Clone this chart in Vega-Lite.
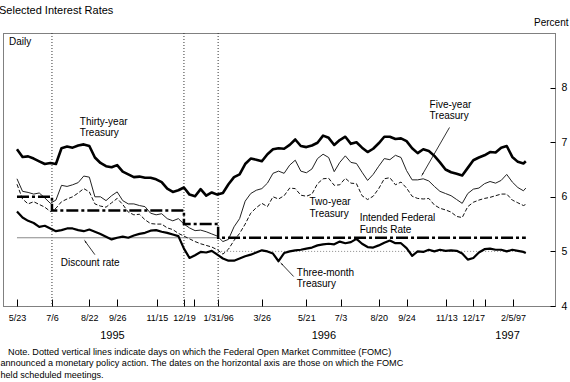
{
  "$schema": "https://vega.github.io/schema/vega-lite/v6.json",
  "width": 552,
  "height": 273,
  "autosize": {"type": "none"},
  "padding": {"left": 3, "top": 33, "right": 15, "bottom": 76},
  "background": "white",
  "config": {
    "view": {"stroke": "#000", "strokeWidth": 1, "strokeDash": [1, 1]},
    "font": "Liberation Sans",
    "axis": {"grid": false, "domain": false, "labelFont": "Liberation Sans", "titleFont": "Liberation Sans", "labelColor": "#000", "tickColor": "#000", "titleColor": "#000", "titleFontWeight": "normal"},
    "text": {"font": "Liberation Sans", "color": "#000"}
  },
  "title": {"text": "Selected Interest Rates", "anchor": "start", "fontSize": 11, "fontWeight": "normal", "font": "Liberation Sans", "color": "#000", "offset": 1, "dx": -1},
  "datasets": {
    "rates": [
      {"d":"1995-05-23","t30":6.87,"t5":6.33,"t2":6.23,"t3m":5.73},
      {"d":"1995-05-30","t30":6.73,"t5":6.10,"t2":5.96,"t3m":5.62},
      {"d":"1995-06-06","t30":6.74,"t5":6.08,"t2":5.87,"t3m":5.56},
      {"d":"1995-06-13","t30":6.70,"t5":6.05,"t2":5.91,"t3m":5.52},
      {"d":"1995-06-20","t30":6.65,"t5":6.07,"t2":5.86,"t3m":5.45},
      {"d":"1995-06-27","t30":6.60,"t5":5.98,"t2":5.81,"t3m":5.47},
      {"d":"1995-07-04","t30":6.62,"t5":5.88,"t2":5.73,"t3m":5.42},
      {"d":"1995-07-11","t30":6.60,"t5":5.94,"t2":5.79,"t3m":5.37},
      {"d":"1995-07-18","t30":6.89,"t5":6.21,"t2":5.91,"t3m":5.39},
      {"d":"1995-07-25","t30":6.92,"t5":6.19,"t2":5.96,"t3m":5.42},
      {"d":"1995-08-01","t30":6.90,"t5":6.22,"t2":6.00,"t3m":5.42},
      {"d":"1995-08-08","t30":6.94,"t5":6.26,"t2":6.07,"t3m":5.39},
      {"d":"1995-08-15","t30":6.96,"t5":6.38,"t2":6.15,"t3m":5.37},
      {"d":"1995-08-22","t30":6.93,"t5":6.36,"t2":6.09,"t3m":5.40},
      {"d":"1995-08-29","t30":6.72,"t5":6.00,"t2":5.87,"t3m":5.36},
      {"d":"1995-09-05","t30":6.62,"t5":6.00,"t2":5.83,"t3m":5.32},
      {"d":"1995-09-12","t30":6.56,"t5":5.93,"t2":5.81,"t3m":5.27},
      {"d":"1995-09-19","t30":6.54,"t5":6.02,"t2":5.89,"t3m":5.22},
      {"d":"1995-09-26","t30":6.58,"t5":6.09,"t2":5.97,"t3m":5.25},
      {"d":"1995-10-03","t30":6.46,"t5":5.93,"t2":5.86,"t3m":5.27},
      {"d":"1995-10-10","t30":6.41,"t5":5.87,"t2":5.72,"t3m":5.25},
      {"d":"1995-10-17","t30":6.36,"t5":5.87,"t2":5.67,"t3m":5.29},
      {"d":"1995-10-24","t30":6.37,"t5":5.84,"t2":5.68,"t3m":5.32},
      {"d":"1995-10-31","t30":6.35,"t5":5.82,"t2":5.58,"t3m":5.34},
      {"d":"1995-11-07","t30":6.35,"t5":5.70,"t2":5.51,"t3m":5.38},
      {"d":"1995-11-14","t30":6.32,"t5":5.67,"t2":5.50,"t3m":5.39},
      {"d":"1995-11-21","t30":6.27,"t5":5.69,"t2":5.50,"t3m":5.36},
      {"d":"1995-11-28","t30":6.15,"t5":5.60,"t2":5.43,"t3m":5.34},
      {"d":"1995-12-05","t30":6.09,"t5":5.56,"t2":5.40,"t3m":5.31},
      {"d":"1995-12-12","t30":6.12,"t5":5.60,"t2":5.33,"t3m":5.28},
      {"d":"1995-12-19","t30":6.17,"t5":5.50,"t2":5.28,"t3m":5.05},
      {"d":"1995-12-26","t30":6.04,"t5":5.43,"t2":5.23,"t3m":4.88},
      {"d":"1996-01-02","t30":6.01,"t5":5.38,"t2":5.18,"t3m":4.93},
      {"d":"1996-01-09","t30":6.14,"t5":5.39,"t2":5.14,"t3m":4.99},
      {"d":"1996-01-16","t30":6.02,"t5":5.36,"t2":5.11,"t3m":4.98},
      {"d":"1996-01-23","t30":6.08,"t5":5.32,"t2":5.08,"t3m":5.01},
      {"d":"1996-01-30","t30":6.04,"t5":5.28,"t2":5.03,"t3m":4.94},
      {"d":"1996-02-06","t30":6.07,"t5":5.18,"t2":4.95,"t3m":4.87},
      {"d":"1996-02-13","t30":6.23,"t5":5.22,"t2":5.04,"t3m":4.83},
      {"d":"1996-02-20","t30":6.36,"t5":5.45,"t2":5.20,"t3m":4.83},
      {"d":"1996-02-27","t30":6.41,"t5":5.60,"t2":5.33,"t3m":4.87},
      {"d":"1996-03-05","t30":6.60,"t5":5.92,"t2":5.50,"t3m":4.91},
      {"d":"1996-03-12","t30":6.70,"t5":6.06,"t2":5.70,"t3m":4.94},
      {"d":"1996-03-19","t30":6.68,"t5":6.12,"t2":5.80,"t3m":4.98},
      {"d":"1996-03-26","t30":6.65,"t5":6.15,"t2":5.88,"t3m":5.02},
      {"d":"1996-04-02","t30":6.78,"t5":6.25,"t2":5.82,"t3m":5.00},
      {"d":"1996-04-09","t30":6.87,"t5":6.43,"t2":6.00,"t3m":4.96},
      {"d":"1996-04-16","t30":6.89,"t5":6.47,"t2":5.96,"t3m":4.82},
      {"d":"1996-04-23","t30":6.88,"t5":6.43,"t2":6.02,"t3m":4.97},
      {"d":"1996-04-30","t30":6.95,"t5":6.58,"t2":6.16,"t3m":5.00},
      {"d":"1996-05-07","t30":7.05,"t5":6.67,"t2":6.15,"t3m":5.02},
      {"d":"1996-05-14","t30":6.93,"t5":6.47,"t2":6.03,"t3m":5.03},
      {"d":"1996-05-21","t30":6.91,"t5":6.44,"t2":6.01,"t3m":5.05},
      {"d":"1996-05-28","t30":6.94,"t5":6.51,"t2":6.05,"t3m":5.07},
      {"d":"1996-06-04","t30":6.99,"t5":6.70,"t2":6.24,"t3m":5.11},
      {"d":"1996-06-11","t30":7.12,"t5":6.78,"t2":6.33,"t3m":5.13},
      {"d":"1996-06-18","t30":7.08,"t5":6.72,"t2":6.34,"t3m":5.14},
      {"d":"1996-06-25","t30":6.95,"t5":6.46,"t2":6.21,"t3m":5.13},
      {"d":"1996-07-02","t30":7.04,"t5":6.63,"t2":6.22,"t3m":5.18},
      {"d":"1996-07-09","t30":7.10,"t5":6.75,"t2":6.34,"t3m":5.15},
      {"d":"1996-07-16","t30":6.97,"t5":6.63,"t2":6.25,"t3m":5.17},
      {"d":"1996-07-23","t30":7.00,"t5":6.61,"t2":6.24,"t3m":5.23},
      {"d":"1996-07-30","t30":6.90,"t5":6.45,"t2":6.02,"t3m":5.14},
      {"d":"1996-08-06","t30":6.82,"t5":6.30,"t2":5.95,"t3m":5.08},
      {"d":"1996-08-13","t30":6.88,"t5":6.41,"t2":6.01,"t3m":5.07},
      {"d":"1996-08-20","t30":6.98,"t5":6.56,"t2":6.15,"t3m":5.11},
      {"d":"1996-08-27","t30":7.10,"t5":6.70,"t2":6.33,"t3m":5.16},
      {"d":"1996-09-03","t30":7.10,"t5":6.68,"t2":6.35,"t3m":5.20},
      {"d":"1996-09-10","t30":7.06,"t5":6.76,"t2":6.22,"t3m":5.15},
      {"d":"1996-09-17","t30":7.07,"t5":6.72,"t2":6.27,"t3m":5.15},
      {"d":"1996-09-24","t30":7.02,"t5":6.48,"t2":6.16,"t3m":5.06},
      {"d":"1996-10-01","t30":6.89,"t5":6.31,"t2":6.01,"t3m":4.92},
      {"d":"1996-10-08","t30":6.80,"t5":6.31,"t2":5.97,"t3m":5.00},
      {"d":"1996-10-15","t30":6.87,"t5":6.33,"t2":5.96,"t3m":4.99},
      {"d":"1996-10-22","t30":6.84,"t5":6.29,"t2":5.97,"t3m":5.03},
      {"d":"1996-10-29","t30":6.75,"t5":6.19,"t2":5.85,"t3m":5.00},
      {"d":"1996-11-05","t30":6.63,"t5":6.10,"t2":5.79,"t3m":5.03},
      {"d":"1996-11-12","t30":6.50,"t5":6.06,"t2":5.76,"t3m":5.01},
      {"d":"1996-11-19","t30":6.45,"t5":6.02,"t2":5.72,"t3m":5.02},
      {"d":"1996-11-26","t30":6.42,"t5":5.95,"t2":5.64,"t3m":5.01},
      {"d":"1996-12-03","t30":6.39,"t5":5.88,"t2":5.62,"t3m":4.96},
      {"d":"1996-12-10","t30":6.53,"t5":6.06,"t2":5.82,"t3m":4.85},
      {"d":"1996-12-17","t30":6.67,"t5":6.14,"t2":5.90,"t3m":4.88},
      {"d":"1996-12-24","t30":6.72,"t5":6.16,"t2":5.94,"t3m":4.98},
      {"d":"1996-12-31","t30":6.76,"t5":6.24,"t2":5.97,"t3m":5.04},
      {"d":"1997-01-07","t30":6.82,"t5":6.28,"t2":5.99,"t3m":5.05},
      {"d":"1997-01-14","t30":6.81,"t5":6.25,"t2":6.02,"t3m":5.03},
      {"d":"1997-01-21","t30":6.90,"t5":6.30,"t2":6.05,"t3m":5.03},
      {"d":"1997-01-28","t30":6.93,"t5":6.41,"t2":6.05,"t3m":5.00},
      {"d":"1997-02-04","t30":6.73,"t5":6.27,"t2":5.94,"t3m":5.03},
      {"d":"1997-02-11","t30":6.64,"t5":6.17,"t2":5.89,"t3m":5.01},
      {"d":"1997-02-18","t30":6.61,"t5":6.11,"t2":5.84,"t3m":4.99},
      {"d":"1997-02-21","t30":6.65,"t5":6.16,"t2":5.86,"t3m":4.97}
    ],
    "fedfunds": [
      {"d":"1995-05-23","rate":6.0},
      {"d":"1995-07-06","rate":5.75},
      {"d":"1995-12-19","rate":5.5},
      {"d":"1996-01-31","rate":5.25},
      {"d":"1997-02-21","rate":5.25}
    ],
    "discount": [
      {"d":"1995-05-23","d2":"1996-01-31","rate":5.25,"seg":"a"},
      {"d":"1996-01-31","d2":"1997-02-21","rate":5.0,"seg":"b"}
    ],
    "fomc": [
      {"d":"1995-07-06"},
      {"d":"1995-12-19"},
      {"d":"1996-01-31"}
    ],
    "labels": [
      {"d":"1995-05-13","rate":8.92,"text":["Daily"]},
      {"d":"1995-08-10","rate":7.47,"text":["Thirty-year","Treasury"]},
      {"d":"1996-10-23","rate":7.78,"text":["Five-year","Treasury"]},
      {"d":"1996-05-25","rate":5.99,"text":["Two-year","Treasury"]},
      {"d":"1996-07-27","rate":5.70,"text":["Intended Federal","Funds Rate"]},
      {"d":"1996-05-09","rate":4.70,"text":["Three-month","Treasury"]},
      {"d":"1995-07-17","rate":4.87,"text":["Discount rate"]}
    ],
    "years": [
      {"d":"1995-09-20","text":"1995"},
      {"d":"1996-06-12","text":"1996"},
      {"d":"1997-01-29","text":"1997"}
    ],
    "arrows": [
      {"name":"disc","d":"1995-08-29","rate":4.94,"d2":"1995-08-17","rate2":5.18},
      {"name":"five","d":"1996-11-17","rate":7.27,"d2":"1996-10-14","rate2":6.41},
      {"name":"three","d":"1996-05-05","rate":4.54,"d2":"1996-04-20","rate2":4.77}
    ]
  },
  "encoding": {
    "x": {
      "field": "d",
      "type": "temporal",
      "scale": {"type": "utc", "domain": [{"year":1995,"month":5,"date":5,"hours":10,"utc":true},{"year":1997,"month":3,"date":29,"hours":17,"utc":true}]},
      "axis": {
        "values": [
          {"year":1995,"month":5,"date":23,"utc":true},
          {"year":1995,"month":7,"date":6,"utc":true},
          {"year":1995,"month":8,"date":22,"utc":true},
          {"year":1995,"month":9,"date":26,"utc":true},
          {"year":1995,"month":11,"date":15,"utc":true},
          {"year":1995,"month":12,"date":19,"utc":true},
          {"year":1996,"month":1,"date":1,"utc":true},
          {"year":1996,"month":1,"date":31,"utc":true},
          {"year":1996,"month":3,"date":26,"utc":true},
          {"year":1996,"month":5,"date":21,"utc":true},
          {"year":1996,"month":7,"date":3,"utc":true},
          {"year":1996,"month":8,"date":20,"utc":true},
          {"year":1996,"month":9,"date":24,"utc":true},
          {"year":1996,"month":11,"date":13,"utc":true},
          {"year":1996,"month":12,"date":17,"utc":true},
          {"year":1997,"month":1,"date":1,"utc":true},
          {"year":1997,"month":2,"date":5,"utc":true}
        ],
        "labelExpr": "(utcmonth(datum.value) == 0 && utcdate(datum.value) == 1) ? '' : ((utcmonth(datum.value) < 2 && utcyear(datum.value) > 1995) ? utcFormat(datum.value, '%-m/%-d/%y') : utcFormat(datum.value, '%-m/%-d'))",
        "tickSize": -7,
        "labelPadding": 14,
        "labelFontSize": 9,
        "labelOverlap": false,
        "labelFlush": false,
        "title": ["\u200b\u00a0\u00a0\u00a0Note.  Dotted vertical lines indicate days on which the Federal Open Market Committee (FOMC)", "announced a monetary policy action. The dates on the horizontal axis are those on which the FOMC", "held scheduled meetings."],
        "titleAnchor": "start",
        "titleAlign": "left",
        "titleBaseline": "top",
        "titleX": -3,
        "titleY": 41,
        "titleFontSize": 9.1,
        "titleLineHeight": 11.5
      }
    }
  },
  "layer": [
    {
      "data": {"name": "fomc"},
      "mark": {"type": "rule", "color": "#333", "strokeWidth": 1, "strokeDash": [1, 2]},
      "encoding": {}
    },
    {
      "data": {"name": "discount"},
      "mark": {"type": "rule", "color": "#888", "strokeWidth": 1},
      "encoding": {
        "x2": {"field": "d2"},
        "y": {"field": "rate", "type": "quantitative", "scale": {"domain": [4, 9], "nice": false, "zero": false}},
        "strokeDash": {"field": "seg", "type": "nominal", "scale": {"domain": ["a", "b"], "range": [[1, 0], [1, 2]]}, "legend": null}
      }
    },
    {
      "data": {"name": "rates"},
      "transform": [{"fold": ["t30", "t5", "t2", "t3m"], "as": ["series", "rate"]}],
      "layer": [
        {
          "transform": [{"filter": "datum.series == 't2'"}],
          "mark": {"type": "line", "color": "#111", "strokeWidth": 1, "strokeDash": [4, 2]},
          "encoding": {
            "y": {
              "field": "rate",
              "type": "quantitative",
              "scale": {"domain": [4, 9], "nice": false, "zero": false},
              "axis": {"orient": "right", "values": [4, 5, 6, 7, 8], "tickSize": -5, "labelPadding": 11, "labelFontSize": 10.5, "title": "Percent", "titleAngle": 0, "titleAlign": "right", "titleBaseline": "middle", "titleX": 13, "titleY": -11, "titleFontSize": 10}
            }
          }
        },
        {
          "transform": [{"filter": "datum.series == 't5'"}],
          "mark": {"type": "line", "color": "#222", "strokeWidth": 1},
          "encoding": {
            "y": {"field": "rate", "type": "quantitative", "scale": {"domain": [4, 9], "nice": false, "zero": false}}
          }
        },
        {
          "transform": [{"filter": "datum.series == 't3m'"}],
          "mark": {"type": "line", "color": "#000", "strokeWidth": 2.2, "strokeJoin": "round"},
          "encoding": {
            "y": {"field": "rate", "type": "quantitative", "scale": {"domain": [4, 9], "nice": false, "zero": false}}
          }
        },
        {
          "transform": [{"filter": "datum.series == 't30'"}],
          "mark": {"type": "line", "color": "#000", "strokeWidth": 2.6, "strokeJoin": "round"},
          "encoding": {
            "y": {"field": "rate", "type": "quantitative", "scale": {"domain": [4, 9], "nice": false, "zero": false}}
          }
        }
      ]
    },
    {
      "data": {"name": "fedfunds"},
      "mark": {"type": "line", "interpolate": "step-after", "color": "#000", "strokeWidth": 2.5, "strokeDash": [12, 3, 3, 3]},
      "encoding": {
        "y": {"field": "rate", "type": "quantitative", "scale": {"domain": [4, 9], "nice": false, "zero": false}}
      }
    },
    {
      "data": {"name": "labels"},
      "mark": {"type": "text", "align": "left", "baseline": "top", "fontSize": 10, "lineHeight": 11.5, "color": "#000"},
      "encoding": {
        "y": {"field": "rate", "type": "quantitative", "scale": {"domain": [4, 9], "nice": false, "zero": false}},
        "text": {"field": "text"}
      }
    },
    {
      "data": {"name": "years"},
      "mark": {"type": "text", "align": "center", "baseline": "middle", "fontSize": 11, "color": "#000"},
      "encoding": {
        "y": {"datum": 3.45, "type": "quantitative", "scale": {"domain": [4, 9], "nice": false, "zero": false}},
        "text": {"field": "text"}
      }
    },
    {
      "data": {"name": "arrows"},
      "mark": {"type": "rule", "color": "#000", "strokeWidth": 0.8},
      "encoding": {
        "x2": {"field": "d2"},
        "y": {"field": "rate", "type": "quantitative", "scale": {"domain": [4, 9], "nice": false, "zero": false}},
        "y2": {"field": "rate2"}
      }
    },
    {
      "data": {"name": "arrows"},
      "transform": [{"filter": "datum.name == 'disc'"}],
      "mark": {"type": "point", "shape": "wedge", "angle": 325, "filled": true, "size": 22, "color": "#000", "opacity": 1},
      "encoding": {
        "x": {"field": "d2", "type": "temporal"},
        "y": {"field": "rate2", "type": "quantitative", "scale": {"domain": [4, 9], "nice": false, "zero": false}}
      }
    },
    {
      "data": {"name": "arrows"},
      "transform": [{"filter": "datum.name == 'five'"}],
      "mark": {"type": "point", "shape": "wedge", "angle": 210, "filled": true, "size": 22, "color": "#000", "opacity": 1},
      "encoding": {
        "x": {"field": "d2", "type": "temporal"},
        "y": {"field": "rate2", "type": "quantitative", "scale": {"domain": [4, 9], "nice": false, "zero": false}}
      }
    },
    {
      "data": {"name": "arrows"},
      "transform": [{"filter": "datum.name == 'three'"}],
      "mark": {"type": "point", "shape": "wedge", "angle": 317, "filled": true, "size": 22, "color": "#000", "opacity": 1},
      "encoding": {
        "x": {"field": "d2", "type": "temporal"},
        "y": {"field": "rate2", "type": "quantitative", "scale": {"domain": [4, 9], "nice": false, "zero": false}}
      }
    }
  ]
}
